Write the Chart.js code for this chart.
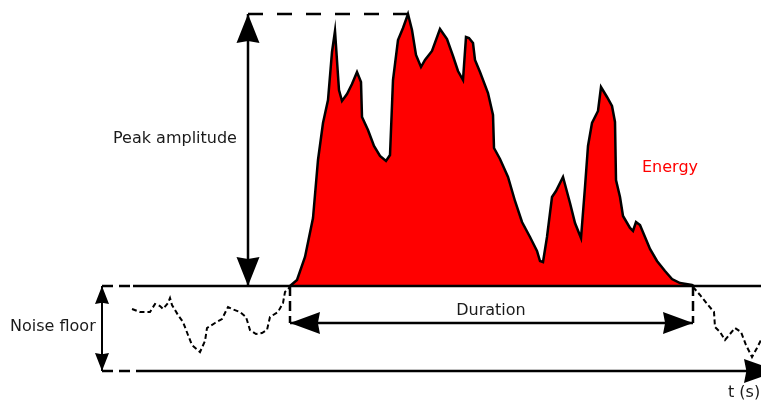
<!DOCTYPE html>
<html>
<head>
<meta charset="utf-8">
<script src="https://cdn.jsdelivr.net/npm/chart.js@4.4.0/dist/chart.umd.min.js"></script>
<style>
  html, body { margin: 0; padding: 0; background: #fff; }
  #wrap { width: 761px; height: 400px; }
</style>
</head>
<body>
<div id="wrap"><canvas id="chart"></canvas></div>
<script>
// time axis runs in picture units, amplitude is measured up from the noise floor line
const energyT = [290, 297, 305, 313, 318, 323, 328, 332, 335, 339, 342, 347, 352, 357, 361, 362, 368, 374, 380, 386,
  390, 393, 398, 403, 408, 412, 416, 421, 425, 432, 440, 447, 453, 458, 463, 466, 469, 473, 475, 480,
  488, 493, 494, 500, 508, 515, 522, 530, 537, 540, 543, 547, 552, 556, 563, 570, 575, 581, 585, 588,
  592, 598, 601, 607, 612, 615, 616, 620, 623, 630, 633, 636, 640, 645, 650, 657, 665, 672, 680, 692, 694];
const energyA = [0, 6, 29, 68, 126, 163, 186, 234, 255, 196, 185, 192, 202, 214, 204, 169, 156, 140, 130, 125,
  131, 206, 246, 258, 272, 256, 231, 219, 226, 235, 257, 247, 230, 215, 206, 249, 248, 243, 226, 214,
  193, 171, 138, 127, 109, 85, 64, 49, 35, 25, 24, 49, 89, 95, 109, 83, 63, 48, 99, 140,
  163, 175, 199, 189, 180, 164, 106, 89, 70, 58, 55, 64, 61, 49, 37, 25, 15, 7, 3, 1, 0];

const noiseBeforeT = [132, 140, 150, 155, 160, 163, 168, 170, 172, 178, 183, 188, 192, 200, 205, 207, 215, 222,
  228, 232, 240, 246, 250, 256, 262, 267, 270, 278, 283, 285, 290];
const noiseBeforeA = [-23, -26, -26, -18, -20, -23, -17, -12, -19, -29, -36, -49, -59, -66, -55, -42, -37, -33,
  -21, -23, -26, -31, -44, -48, -47, -44, -31, -26, -17, -6, -1];
const noiseAfterT = [693, 700, 708, 714, 715, 720, 725, 730, 735, 741, 746, 752, 757, 761];
const noiseAfterA = [-1, -9, -19, -26, -41, -46, -54, -48, -42, -46, -59, -71, -62, -54];

const PEAK = 272;
const PEAK_T = 408;
const FLOOR = -85;
const START_T = 290;
const END_T = 693;
const DURATION_A = -37;

const labels = [
  { text: 'Peak amplitude', x: 175, y: 147, align: 'center', color: '#1a1a1a' },
  { text: 'Noise floor', x: 10, y: -41, align: 'left', color: '#1a1a1a' },
  { text: 'Duration', x: 491, y: -25, align: 'center', color: '#1a1a1a' },
  { text: 'Energy', x: 642, y: 118, align: 'left', color: '#ff0000' },
  { text: 't (s)', x: 728, y: -107, align: 'left', color: '#1a1a1a' }
];

const pts = (xs, ys) => xs.map((x, i) => ({ x, y: ys[i] }));
const seg = (x1, y1, x2, y2) => [{ x: x1, y: y1 }, { x: x2, y: y2 }];

function drawHead(ctx, from, to, len, half) {
  const ang = Math.atan2(to.y - from.y, to.x - from.x);
  ctx.save();
  ctx.translate(to.x, to.y);
  ctx.rotate(ang);
  ctx.beginPath();
  ctx.moveTo(0, 0);
  ctx.lineTo(-len, -half);
  ctx.lineTo(-len * 0.93, 0);
  ctx.lineTo(-len, half);
  ctx.closePath();
  ctx.fillStyle = '#000';
  ctx.fill();
  ctx.restore();
}

const extras = {
  id: 'extras',
  afterDatasetsDraw(chart) {
    const ctx = chart.ctx;
    chart.data.datasets.forEach((ds, i) => {
      if (!ds.heads) return;
      const p = chart.getDatasetMeta(i).data;
      const a = p[0], b = p[p.length - 1];
      if (ds.heads !== 'end') drawHead(ctx, b, a, ds.headSize[0], ds.headSize[1]);
      drawHead(ctx, a, b, ds.headSize[0], ds.headSize[1]);
    });
    const xs = chart.scales.x, ys = chart.scales.y;
    ctx.save();
    ctx.font = '16px "DejaVu Sans", Verdana, sans-serif';
    ctx.textBaseline = 'middle';
    labels.forEach(l => {
      ctx.fillStyle = l.color;
      ctx.textAlign = l.align;
      ctx.fillText(l.text, xs.getPixelForValue(l.x), ys.getPixelForValue(l.y));
    });
    ctx.restore();
  }
};

const line = (data, extra) => Object.assign({
  data, borderColor: '#000', borderWidth: 2.5, pointRadius: 0, fill: false, tension: 0, order: 1
}, extra);

new Chart(document.getElementById('chart'), {
  type: 'line',
  data: {
    datasets: [
      line(pts(energyT, energyA), { backgroundColor: '#ff0000', fill: 'origin', borderWidth: 2.5, order: 5 }),
      line(pts(noiseBeforeT, noiseBeforeA), { borderWidth: 2, borderDash: [5, 3], order: 4 }),
      line(pts(noiseAfterT, noiseAfterA), { borderWidth: 2, borderDash: [5, 3], order: 4 }),
      // noise floor top and bottom
      line(seg(102, 0, 133, 0), { borderDash: [11, 6] }),
      line(seg(133, 0, 761, 0)),
      line(seg(102, FLOOR, 140, FLOOR), { borderDash: [11, 6] }),
      line(seg(140, FLOOR, 778, FLOOR), { heads: 'end', headSize: [34, 12] }),
      // peak amplitude
      line(seg(248, PEAK, PEAK_T, PEAK), { borderDash: [15, 14] }),
      line(seg(248, 0, 248, PEAK), { heads: 'both', headSize: [29, 11.5] }),
      // noise floor arrow
      line(seg(102, 0, 102, FLOOR), { borderWidth: 2, heads: 'both', headSize: [18, 7] }),
      // duration
      line(seg(START_T, 0, START_T, DURATION_A), { borderDash: [10, 5] }),
      line(seg(END_T, 0, END_T, DURATION_A), { borderDash: [10, 5] }),
      line(seg(START_T, DURATION_A, END_T, DURATION_A), { heads: 'both', headSize: [30, 11] })
    ]
  },
  options: {
    responsive: true,
    maintainAspectRatio: false,
    animation: false,
    layout: { padding: 0 },
    plugins: { legend: { display: false }, tooltip: { enabled: false } },
    scales: {
      x: { type: 'linear', display: false, min: 0, max: 761 },
      y: { type: 'linear', display: false, min: -114, max: 286 }
    }
  },
  plugins: [extras]
});
</script>
</body>
</html>
